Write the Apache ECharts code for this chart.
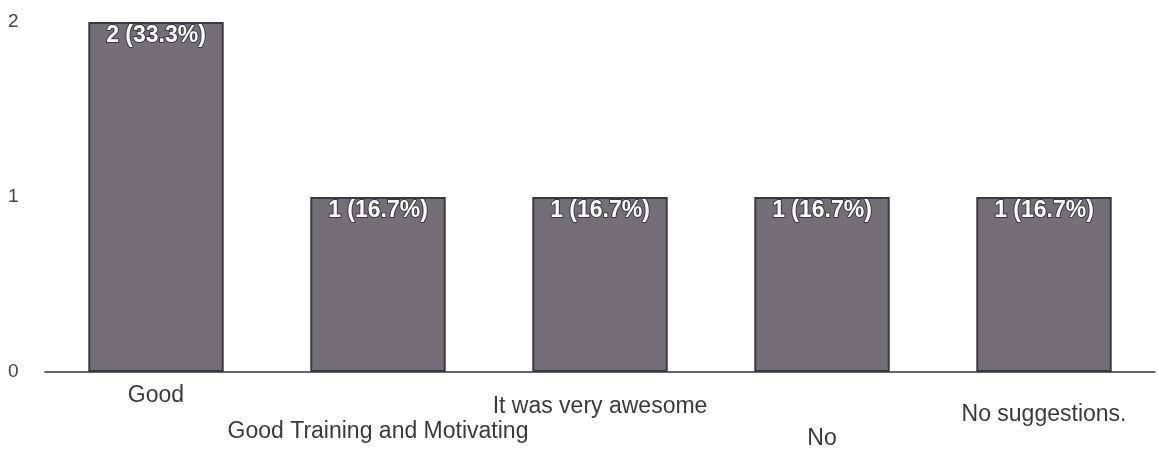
<!DOCTYPE html>
<html>
<head>
<meta charset="utf-8">
<script src="https://cdn.jsdelivr.net/npm/echarts@6/dist/echarts.min.js"></script>
<style>
  html, body { margin: 0; padding: 0; background: #fff; }
  #chart { width: 1158px; height: 450px; }
</style>
</head>
<body>
<div id="chart"></div>
<script>
// Responses per answer
const categories = ['Good', 'Good Training and Motivating', 'It was very awesome', 'No', 'No suggestions.'];
const counts = [2, 1, 1, 1, 1];
const yTicks = [0, 1, 2];

// Category labels alternate between two staggered rows
const labelOffsets = [7, 43, 18, 50, 26];

const total = counts.reduce((a, b) => a + b, 0);

const chart = echarts.init(document.getElementById('chart'));
chart.setOption({
  animation: false,
  grid: { left: 45, right: 3, top: 22, bottom: 78, containLabel: false, outerBoundsMode: 'none' },
  xAxis: {
    type: 'category',
    data: categories.map((c, i) => ({
      value: c,
      textStyle: { padding: [labelOffsets[i], 0, 0, 0] }
    })),
    axisLine: { lineStyle: { color: '#333', width: 1.5 } },
    axisTick: { show: false },
    axisLabel: {
      interval: 0,
      margin: 4,
      color: '#3a3a3a',
      fontSize: 23,
      lineHeight: 26,
      fontFamily: 'Liberation Sans, Arial, sans-serif'
    }
  },
  yAxis: {
    type: 'value',
    min: yTicks[0],
    max: yTicks[yTicks.length - 1],
    interval: 1,
    splitLine: { show: false },
    axisLine: { show: false },
    axisTick: { show: false },
    axisLabel: {
      align: 'left',
      margin: 37,
      color: '#444',
      fontSize: 19,
      fontFamily: 'Liberation Sans, Arial, sans-serif'
    }
  },
  series: [{
    type: 'bar',
    data: counts,
    barWidth: '61%',
    itemStyle: {
      color: '#727076',
      borderColor: '#3a3840',
      borderWidth: 2
    },
    label: {
      show: true,
      position: 'insideTop',
      distance: 2,
      color: '#fff',
      fontSize: 23,
      fontWeight: 'bold',
      fontFamily: 'Liberation Sans, Arial, sans-serif',
      textBorderColor: '#3a3840',
      textBorderWidth: 2,
      formatter: p => p.value + ' (' + (p.value / total * 100).toFixed(1) + '%)'
    }
  }]
});
</script>
</body>
</html>
